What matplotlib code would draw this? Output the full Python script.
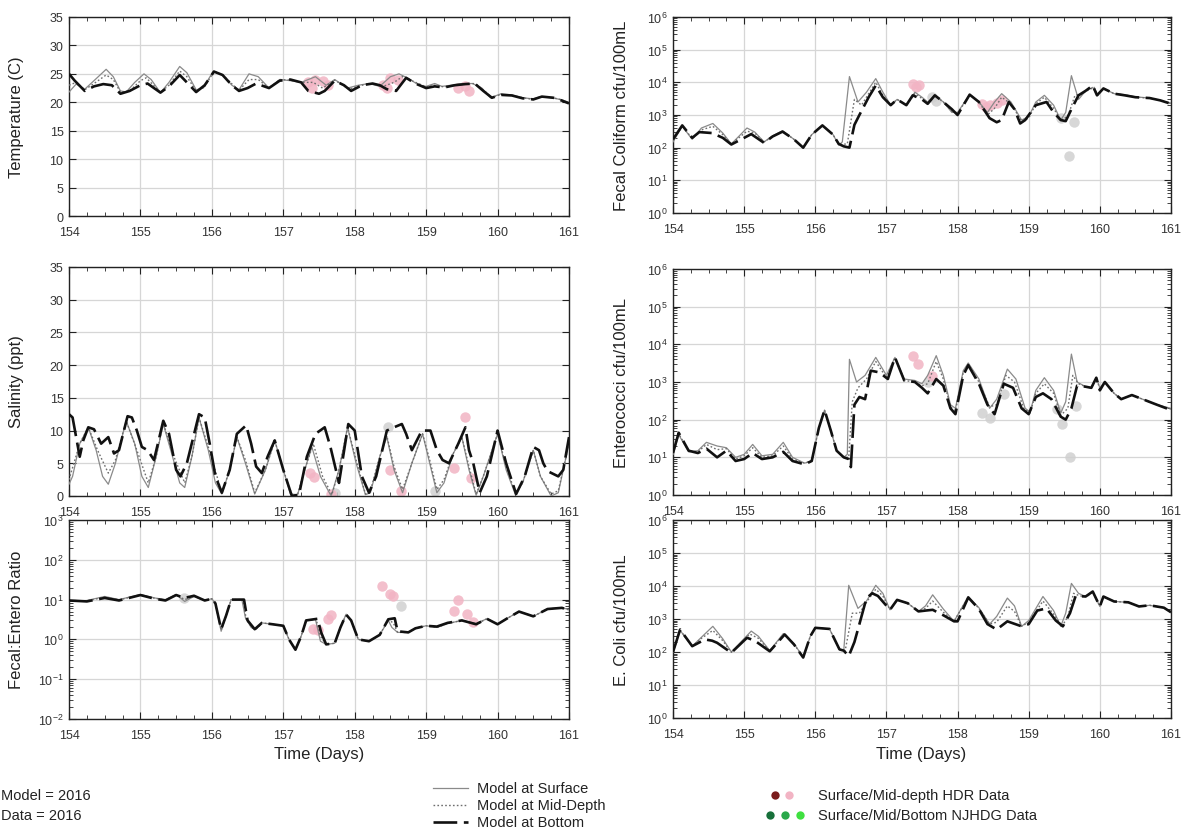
import numpy as np
import matplotlib
matplotlib.use("Agg")
import matplotlib.pyplot as plt
from matplotlib.ticker import MultipleLocator, FixedLocator, FixedFormatter, LogLocator, NullFormatter, NullLocator
from matplotlib.lines import Line2D

plt.rcParams['font.family'] = ['Liberation Sans', 'DejaVu Sans']
plt.rcParams['mathtext.default'] = 'regular'

# ---------------------------------------------------------------- data
# Each model series is a list of (day, value) knots.

temp_surface = [(154.00, 21.8), (154.10, 23.2), (154.22, 22.3), (154.35, 23.8), (154.52, 25.8), (154.62, 24.5),
                (154.72, 22.0), (154.80, 21.8), (154.92, 23.5), (155.05, 25.0), (155.15, 24.0), (155.28, 21.7),
                (155.40, 23.5), (155.55, 26.3), (155.65, 25.2), (155.78, 22.2), (155.88, 22.5), (156.02, 25.5),
                (156.15, 24.8), (156.28, 23.0), (156.38, 22.2), (156.52, 25.0), (156.65, 24.5), (156.80, 22.5),
                (156.95, 24.0), (157.10, 23.8), (157.25, 23.5), (157.45, 24.5), (157.60, 23.0), (157.72, 24.0),
                (157.90, 22.5), (158.05, 23.0), (158.20, 23.3), (158.35, 22.8), (158.50, 24.5), (158.62, 25.0),
                (158.75, 24.2), (158.90, 23.0), (159.00, 22.8), (159.12, 23.3), (159.22, 22.8), (159.35, 23.0),
                (159.50, 23.3), (159.65, 23.3), (159.78, 22.5), (159.90, 20.8), (160.05, 21.5), (160.20, 21.3),
                (160.35, 20.8), (160.50, 20.6), (160.60, 21.0), (160.75, 20.8), (160.88, 20.5), (161.00, 20.0)]
temp_mid = [(154.00, 23.0), (154.10, 23.5), (154.22, 22.2), (154.35, 23.3), (154.52, 24.8), (154.62, 24.0),
            (154.72, 21.8), (154.85, 22.0), (155.00, 23.8), (155.08, 24.3), (155.28, 21.8), (155.40, 23.0),
            (155.55, 25.5), (155.65, 24.5), (155.78, 22.0), (155.90, 22.8), (156.03, 25.4), (156.15, 24.8),
            (156.30, 23.0), (156.38, 22.1), (156.52, 24.0), (156.65, 24.0), (156.80, 22.5), (156.95, 24.0),
            (157.10, 23.9), (157.25, 23.5), (157.42, 23.5), (157.55, 22.5), (157.72, 23.9), (157.92, 22.3),
            (158.10, 23.0), (158.25, 23.3), (158.40, 22.8), (158.55, 23.5), (158.68, 24.6), (158.80, 23.8),
            (159.00, 22.7), (159.12, 23.0), (159.25, 22.7), (159.40, 23.0), (159.55, 23.2), (159.68, 23.3),
            (159.80, 22.2), (159.92, 20.8), (160.05, 21.4), (160.20, 21.2), (160.35, 20.8), (160.50, 20.5),
            (160.62, 21.0), (160.78, 20.8), (160.90, 20.4), (161.00, 19.9)]
temp_bottom = [(154.00, 25.0), (154.08, 23.8), (154.22, 22.0), (154.35, 22.8), (154.48, 23.2), (154.60, 23.0),
               (154.72, 21.5), (154.85, 22.0), (155.00, 23.0), (155.10, 23.3), (155.28, 21.7), (155.40, 22.8),
               (155.55, 24.8), (155.65, 23.5), (155.78, 21.8), (155.90, 23.0), (156.03, 25.4), (156.15, 24.8),
               (156.28, 23.0), (156.38, 22.0), (156.50, 22.5), (156.62, 23.3), (156.80, 22.5), (156.95, 23.8),
               (157.10, 24.0), (157.25, 23.5), (157.35, 22.0), (157.50, 21.5), (157.58, 22.0), (157.72, 23.8),
               (157.85, 23.0), (157.95, 22.0), (158.10, 23.0), (158.25, 23.3), (158.35, 23.0), (158.45, 22.3),
               (158.58, 22.0), (158.72, 24.3), (158.85, 23.3), (159.00, 22.5), (159.12, 22.8), (159.25, 22.6),
               (159.40, 23.0), (159.55, 23.2), (159.68, 23.3), (159.80, 22.0), (159.92, 20.8), (160.05, 21.3),
               (160.20, 21.2), (160.35, 20.7), (160.50, 20.5), (160.62, 21.0), (160.78, 20.8), (160.90, 20.3),
               (161.00, 19.8)]
temp_hdr = [(157.35, 23.5), (157.45, 24.0), (157.55, 23.8), (157.62, 23.0), (157.40, 22.5),
            (158.40, 23.0), (158.50, 24.3), (158.60, 24.0), (158.45, 22.5),
            (159.45, 22.5), (159.55, 22.8), (159.60, 22.0)]
temp_other = []

sal_surface = [(154.00, 1.8), (154.05, 3.0), (154.15, 8.0), (154.27, 10.5), (154.38, 7.0), (154.47, 3.0),
               (154.55, 1.8), (154.65, 5.0), (154.80, 11.5), (154.92, 8.0), (155.02, 3.0), (155.11, 1.3),
               (155.22, 6.0), (155.32, 11.0), (155.45, 6.0), (155.55, 2.0), (155.62, 1.3), (155.72, 6.0),
               (155.82, 12.0), (155.95, 7.0), (156.05, 2.0), (156.14, 0.3), (156.25, 4.0), (156.35, 9.0),
               (156.47, 5.0), (156.60, 0.3), (156.75, 4.0), (156.88, 8.5), (157.00, 4.0), (157.10, 0.3),
               (157.20, 0.2), (157.30, 4.0), (157.40, 7.5), (157.52, 3.0), (157.67, 0.0), (157.78, 4.0),
               (157.90, 10.5), (158.02, 5.0), (158.15, 0.2), (158.22, 0.5), (158.35, 6.0), (158.45, 9.0),
               (158.55, 4.0), (158.67, 0.5), (158.80, 5.0), (158.95, 9.5), (159.05, 5.0), (159.15, 0.5),
               (159.25, 2.0), (159.38, 6.5), (159.50, 9.0), (159.60, 4.0), (159.70, 0.1), (159.80, 3.0),
               (160.00, 9.5), (160.12, 4.0), (160.25, 0.2), (160.35, 2.0), (160.50, 7.0), (160.60, 3.0),
               (160.75, 0.0), (160.85, 0.5), (161.00, 8.0)]
sal_mid = [(154.00, 2.5), (154.15, 8.0), (154.27, 10.5), (154.40, 7.0), (154.55, 3.5), (154.65, 5.5),
           (154.80, 11.5), (154.95, 7.0), (155.11, 2.0), (155.22, 6.0), (155.32, 11.2), (155.45, 6.5),
           (155.62, 2.0), (155.72, 6.0), (155.82, 12.0), (155.95, 7.5), (156.14, 0.5), (156.25, 4.0),
           (156.35, 9.0), (156.47, 5.5), (156.60, 0.5), (156.75, 4.0), (156.88, 8.5), (157.00, 4.0),
           (157.12, 0.2), (157.20, 0.2), (157.30, 4.0), (157.42, 8.0), (157.55, 3.0), (157.68, 0.2),
           (157.78, 4.0), (157.90, 10.5), (158.02, 5.5), (158.15, 0.3), (158.22, 0.8), (158.35, 6.0),
           (158.45, 9.2), (158.55, 4.5), (158.67, 1.0), (158.80, 5.0), (158.95, 9.5), (159.05, 5.5),
           (159.15, 1.0), (159.25, 2.5), (159.38, 6.5), (159.50, 9.0), (159.60, 4.5), (159.70, 0.3),
           (159.80, 3.0), (160.00, 9.5), (160.12, 4.5), (160.25, 0.4), (160.35, 2.0), (160.50, 7.0),
           (160.60, 3.0), (160.75, 0.3), (160.85, 0.8), (161.00, 8.0)]
sal_bottom = [(154.00, 12.5), (154.05, 12.0), (154.10, 9.0), (154.15, 6.0), (154.20, 8.5), (154.27, 10.5),
              (154.35, 10.2), (154.45, 8.0), (154.55, 9.0), (154.63, 6.5), (154.70, 7.0), (154.82, 12.2),
              (154.88, 12.0), (154.95, 10.0), (155.02, 7.5), (155.10, 7.0), (155.19, 5.5), (155.32, 11.5),
              (155.40, 9.5), (155.50, 4.0), (155.56, 3.0), (155.65, 5.0), (155.82, 12.5), (155.90, 12.0),
              (155.97, 8.0), (156.05, 3.0), (156.14, 0.5), (156.25, 4.0), (156.35, 9.5), (156.48, 10.8),
              (156.55, 8.0), (156.62, 4.5), (156.70, 3.5), (156.78, 6.0), (156.88, 8.5), (157.00, 4.0),
              (157.12, 0.0), (157.22, 0.2), (157.33, 6.0), (157.45, 9.5), (157.58, 10.5), (157.66, 7.5),
              (157.78, 2.0), (157.91, 11.0), (158.00, 10.0), (158.10, 3.0), (158.20, 0.5), (158.30, 3.0),
              (158.45, 10.0), (158.55, 10.5), (158.66, 11.0), (158.72, 9.5), (158.80, 7.0), (158.94, 10.0),
              (159.06, 10.0), (159.15, 7.0), (159.23, 5.5), (159.32, 5.0), (159.45, 8.0), (159.55, 10.5),
              (159.60, 7.0), (159.66, 5.0), (159.75, 0.5), (159.85, 3.0), (160.00, 10.0), (160.12, 5.0),
              (160.26, 0.3), (160.38, 3.0), (160.50, 7.5), (160.58, 7.0), (160.64, 5.0), (160.70, 3.8),
              (160.85, 3.0), (160.92, 4.0), (161.00, 9.0)]
sal_hdr = [(157.38, 3.5), (157.43, 2.9), (157.67, 0.3), (158.50, 4.0), (158.65, 0.8),
           (159.39, 4.3), (159.55, 12.0), (159.63, 2.8)]
sal_other = [(158.46, 10.5), (157.72, 0.5), (159.12, 0.8)]

ratio_surface = [(154.00, 9.0), (154.25, 9.5), (154.50, 12.0), (154.70, 10.0), (155.00, 13.5), (155.20, 11.0),
                 (155.35, 10.0), (155.50, 13.5), (155.62, 9.0), (155.75, 12.0), (155.90, 9.5), (156.00, 10.5),
                 (156.05, 8.0), (156.13, 1.6), (156.20, 4.0), (156.27, 10.0), (156.42, 10.0), (156.47, 3.5),
                 (156.55, 2.0), (156.62, 1.8), (156.70, 2.6), (156.85, 2.4), (157.00, 2.2), (157.08, 1.0),
                 (157.17, 0.55), (157.25, 1.2), (157.32, 3.0), (157.45, 3.2), (157.52, 0.9), (157.60, 0.75),
                 (157.72, 0.8), (157.80, 2.0), (157.88, 4.3), (157.95, 3.0), (158.05, 1.0), (158.20, 0.9),
                 (158.35, 1.3), (158.47, 3.0), (158.52, 2.0), (158.60, 1.5), (158.75, 1.5), (158.85, 1.9),
                 (159.00, 2.2), (159.15, 2.0), (159.30, 2.5), (159.50, 3.0), (159.70, 2.5), (159.85, 3.3),
                 (160.00, 2.4), (160.15, 3.5), (160.30, 5.0), (160.50, 3.8), (160.70, 5.8), (160.90, 6.3),
                 (161.00, 5.6)]
ratio_mid = [(154.00, 9.2), (154.25, 9.3), (154.50, 11.5), (154.70, 9.8), (155.00, 13.2), (155.20, 10.8),
             (155.35, 9.8), (155.50, 13.2), (155.62, 10.0), (155.75, 12.2), (155.90, 9.5), (156.00, 10.5),
             (156.05, 8.0), (156.13, 1.7), (156.20, 4.0), (156.27, 10.0), (156.44, 10.0), (156.48, 3.2),
             (156.57, 1.9), (156.64, 1.9), (156.70, 2.6), (156.85, 2.4), (157.00, 2.2), (157.08, 1.0),
             (157.17, 0.55), (157.25, 1.2), (157.32, 3.0), (157.46, 3.2), (157.52, 1.2), (157.60, 0.75),
             (157.72, 0.8), (157.80, 2.0), (157.88, 4.2), (157.95, 3.0), (158.05, 1.0), (158.20, 0.9),
             (158.35, 1.3), (158.47, 3.1), (158.54, 2.6), (158.60, 1.5), (158.75, 1.5), (158.85, 1.9),
             (159.00, 2.2), (159.15, 2.0), (159.30, 2.5), (159.50, 3.0), (159.70, 2.4), (159.85, 3.3),
             (160.00, 2.4), (160.15, 3.5), (160.30, 5.0), (160.50, 3.8), (160.70, 5.8), (160.90, 6.2),
             (161.00, 5.5)]
ratio_bottom = [(154.00, 9.5), (154.25, 9.0), (154.50, 11.0), (154.70, 9.5), (155.00, 13.0), (155.20, 10.5),
                (155.35, 9.5), (155.50, 13.0), (155.62, 11.0), (155.75, 12.5), (155.90, 9.5), (156.00, 10.5),
                (156.05, 8.0), (156.13, 1.8), (156.20, 4.0), (156.27, 10.0), (156.45, 10.0), (156.50, 3.0),
                (156.60, 1.8), (156.70, 2.6), (156.85, 2.4), (157.00, 2.2), (157.08, 1.0), (157.17, 0.55),
                (157.25, 1.2), (157.32, 3.0), (157.48, 3.3), (157.53, 1.5), (157.60, 0.75), (157.72, 0.8),
                (157.80, 2.0), (157.88, 4.2), (157.95, 3.0), (158.05, 1.0), (158.20, 0.9), (158.35, 1.3),
                (158.47, 3.2), (158.56, 3.4), (158.60, 1.6), (158.75, 1.5), (158.85, 1.9), (159.00, 2.2),
                (159.15, 2.1), (159.30, 2.6), (159.50, 3.0), (159.70, 2.4), (159.85, 3.3), (160.00, 2.4),
                (160.15, 3.5), (160.30, 5.0), (160.50, 3.8), (160.70, 5.8), (160.90, 6.2), (161.00, 5.5)]
ratio_hdr = [(157.41, 1.8), (157.49, 1.7), (157.62, 3.3), (157.67, 4.0), (158.38, 22.0), (158.49, 13.5),
             (158.54, 12.0), (159.39, 5.2), (159.44, 10.0), (159.57, 4.4), (159.65, 2.7)]
ratio_other = [(158.65, 7.0), (155.61, 11.0)]

fecal_surface = [(154.00, 150), (154.13, 450), (154.27, 180), (154.40, 400), (154.56, 550), (154.70, 280),
                 (154.82, 130), (155.04, 400), (155.15, 300), (155.28, 150), (155.40, 230), (155.54, 330),
                 (155.70, 180), (155.83, 100), (155.95, 250), (156.10, 480), (156.25, 250), (156.33, 120),
                 (156.38, 150), (156.48, 15000), (156.60, 2500), (156.72, 5000), (156.85, 13000), (156.95, 5000),
                 (157.06, 2000), (157.15, 3000), (157.28, 2000), (157.40, 5000), (157.50, 3500), (157.58, 2500),
                 (157.68, 4000), (157.80, 2500), (157.92, 1200), (158.00, 1200), (158.17, 4200), (158.30, 2500),
                 (158.42, 1200), (158.52, 2500), (158.62, 4500), (158.75, 2500), (158.90, 700), (159.00, 900),
                 (159.10, 2500), (159.22, 4000), (159.35, 2000), (159.45, 700), (159.52, 1200), (159.60, 16000),
                 (159.70, 3000), (159.80, 5500), (159.90, 7000), (159.96, 4000), (160.05, 6500), (160.20, 4500),
                 (160.35, 4200), (160.50, 3600), (160.70, 3300), (160.85, 2800), (161.00, 2300)]
fecal_mid = [(154.00, 160), (154.13, 460), (154.27, 190), (154.40, 350), (154.56, 450), (154.70, 250),
             (154.82, 130), (155.04, 320), (155.15, 280), (155.28, 150), (155.40, 220), (155.54, 320),
             (155.70, 180), (155.83, 100), (155.95, 250), (156.10, 480), (156.25, 250), (156.33, 125),
             (156.45, 130), (156.55, 3000), (156.65, 2000), (156.75, 4500), (156.85, 10000), (156.95, 4000),
             (157.06, 2000), (157.15, 3000), (157.28, 2000), (157.40, 4500), (157.50, 3200), (157.58, 2300),
             (157.68, 4000), (157.80, 2500), (157.92, 1300), (158.00, 1100), (158.17, 4200), (158.30, 2500),
             (158.42, 1000), (158.52, 1600), (158.62, 3500), (158.75, 2200), (158.90, 650), (159.00, 800),
             (159.10, 2200), (159.22, 3500), (159.35, 1600), (159.45, 700), (159.55, 900), (159.65, 4000),
             (159.75, 4500), (159.85, 6000), (159.92, 7000), (159.97, 4000), (160.05, 6500), (160.20, 4500),
             (160.35, 4100), (160.50, 3500), (160.70, 3300), (160.85, 2800), (161.00, 2250)]
fecal_bottom = [(154.00, 180), (154.13, 480), (154.27, 200), (154.37, 300), (154.55, 280), (154.70, 200),
                (154.82, 125), (155.00, 200), (155.10, 260), (155.28, 140), (155.40, 220), (155.54, 310),
                (155.70, 180), (155.83, 100), (155.95, 250), (156.10, 480), (156.25, 250), (156.33, 130),
                (156.40, 110), (156.48, 100), (156.55, 500), (156.62, 1000), (156.75, 3500), (156.85, 8000),
                (156.95, 3500), (157.06, 2000), (157.15, 3000), (157.28, 2000), (157.37, 4000), (157.50, 3000),
                (157.58, 2200), (157.68, 4000), (157.80, 2500), (157.92, 1500), (158.00, 1000), (158.17, 4200),
                (158.30, 2500), (158.45, 800), (158.55, 600), (158.62, 700), (158.72, 2500), (158.80, 1500),
                (158.88, 550), (158.95, 700), (159.10, 2000), (159.25, 2500), (159.35, 1200), (159.45, 700),
                (159.52, 650), (159.60, 1500), (159.70, 4000), (159.80, 5500), (159.90, 8000), (159.96, 4000),
                (160.05, 6500), (160.20, 4500), (160.35, 4000), (160.50, 3500), (160.70, 3300), (160.85, 2800),
                (161.00, 2200)]
fecal_hdr = [(157.38, 9000), (157.46, 8000), (157.42, 7000), (158.35, 2200), (158.45, 2000),
             (158.55, 2300), (158.62, 2800), (158.40, 1800)]
fecal_other = [(157.64, 3500), (157.70, 2600), (159.45, 800), (159.64, 630), (159.57, 56)]

entero_surface = [(154.00, 12), (154.08, 40), (154.22, 14), (154.35, 15), (154.47, 25), (154.62, 20),
                  (154.75, 18), (154.88, 10), (155.00, 12), (155.12, 22), (155.25, 11), (155.40, 12),
                  (155.55, 25), (155.68, 10), (155.85, 7), (155.95, 8), (156.05, 60), (156.13, 180),
                  (156.22, 50), (156.30, 15), (156.40, 10), (156.45, 12), (156.48, 4000), (156.58, 1000),
                  (156.70, 1500), (156.85, 4500), (157.00, 1500), (157.12, 4500), (157.25, 1200), (157.40, 1100),
                  (157.50, 900), (157.58, 1500), (157.70, 5000), (157.80, 1500), (157.90, 250), (157.97, 200),
                  (158.08, 2000), (158.15, 3200), (158.30, 1200), (158.45, 200), (158.55, 350), (158.70, 2200),
                  (158.82, 1200), (158.95, 200), (159.02, 160), (159.10, 600), (159.22, 1300), (159.35, 600),
                  (159.45, 150), (159.52, 300), (159.60, 5500), (159.68, 1000), (159.80, 750), (159.88, 700),
                  (159.95, 1300), (160.00, 700), (160.07, 1000), (160.20, 500), (160.30, 350), (160.45, 450),
                  (160.60, 350), (160.80, 250), (161.00, 200)]
entero_mid = [(154.00, 12), (154.08, 42), (154.22, 15), (154.35, 14), (154.47, 22), (154.62, 16),
              (154.75, 17), (154.88, 9), (155.00, 11), (155.12, 18), (155.25, 10), (155.40, 11),
              (155.55, 20), (155.68, 9), (155.85, 7), (155.95, 8), (156.05, 60), (156.13, 180),
              (156.22, 50), (156.30, 15), (156.40, 10), (156.47, 10), (156.52, 300), (156.60, 700),
              (156.72, 1200), (156.85, 3500), (157.00, 1300), (157.12, 4500), (157.25, 1100), (157.40, 1000),
              (157.50, 800), (157.58, 900), (157.70, 3500), (157.80, 1200), (157.90, 220), (157.97, 170),
              (158.08, 1800), (158.15, 3000), (158.30, 1000), (158.45, 220), (158.55, 250), (158.68, 1500),
              (158.80, 1000), (158.93, 200), (159.02, 150), (159.10, 500), (159.22, 900), (159.35, 500),
              (159.45, 130), (159.55, 200), (159.62, 1500), (159.70, 900), (159.80, 750), (159.88, 700),
              (159.95, 1300), (160.00, 650), (160.07, 1000), (160.20, 500), (160.30, 350), (160.45, 450),
              (160.60, 350), (160.80, 250), (161.00, 190)]
entero_bottom = [(154.00, 13), (154.08, 45), (154.22, 15), (154.35, 13), (154.47, 17), (154.62, 10),
                 (154.75, 15), (154.88, 8), (155.00, 9), (155.12, 13), (155.25, 9), (155.40, 10),
                 (155.55, 14), (155.68, 8), (155.85, 6.5), (155.95, 8), (156.05, 60), (156.13, 180),
                 (156.22, 50), (156.30, 15), (156.40, 10), (156.47, 9), (156.50, 5.5), (156.55, 250),
                 (156.62, 400), (156.70, 350), (156.78, 2000), (156.90, 1800), (157.02, 1200), (157.12, 4500),
                 (157.25, 1100), (157.40, 1000), (157.50, 700), (157.58, 500), (157.70, 1200), (157.80, 800),
                 (157.90, 200), (157.97, 140), (158.08, 1500), (158.15, 2800), (158.30, 900), (158.42, 250),
                 (158.52, 140), (158.65, 900), (158.78, 700), (158.90, 200), (159.00, 140), (159.10, 400),
                 (159.20, 500), (159.32, 350), (159.45, 120), (159.52, 100), (159.60, 200), (159.68, 800),
                 (159.80, 750), (159.88, 700), (159.95, 1300), (160.00, 600), (160.07, 1000), (160.20, 500),
                 (160.30, 350), (160.45, 450), (160.60, 350), (160.80, 250), (161.00, 180)]
entero_hdr = [(157.38, 5000), (157.45, 3000), (157.64, 1450)]
entero_other = [(157.59, 1000), (158.35, 150), (158.45, 110), (158.65, 470), (159.40, 190),
                (159.47, 75), (159.58, 10), (159.66, 230)]

ecoli_surface = [(154.00, 100), (154.10, 450), (154.27, 150), (154.40, 280), (154.56, 600), (154.70, 250),
                 (154.82, 100), (155.10, 430), (155.20, 300), (155.36, 110), (155.55, 360), (155.70, 180),
                 (155.83, 70), (155.93, 300), (156.00, 540), (156.20, 500), (156.34, 120), (156.40, 110),
                 (156.47, 10500), (156.60, 2100), (156.72, 3500), (156.85, 10500), (156.95, 6000), (157.05, 1900),
                 (157.15, 3800), (157.30, 3000), (157.45, 1700), (157.55, 2500), (157.65, 5400), (157.80, 2000),
                 (157.95, 850), (158.15, 4800), (158.30, 2200), (158.45, 700), (158.55, 1200), (158.70, 4300),
                 (158.80, 2500), (158.90, 600), (159.00, 900), (159.20, 4800), (159.35, 1800), (159.45, 600),
                 (159.52, 1500), (159.60, 12000), (159.70, 6000), (159.80, 4800), (159.90, 6800), (160.00, 2400),
                 (160.05, 4800), (160.20, 3400), (160.40, 3200), (160.55, 2400), (160.70, 2600), (160.90, 2200),
                 (161.00, 1600)]
ecoli_mid = [(154.00, 100), (154.10, 460), (154.27, 150), (154.40, 260), (154.56, 450), (154.70, 220),
             (154.82, 98), (155.08, 350), (155.20, 260), (155.36, 108), (155.56, 350), (155.70, 175),
             (155.83, 69), (155.93, 300), (156.00, 540), (156.20, 500), (156.34, 120), (156.42, 110),
             (156.52, 1500), (156.62, 1500), (156.75, 4000), (156.85, 8000), (156.95, 5000), (157.05, 1900),
             (157.15, 3800), (157.30, 3000), (157.45, 1700), (157.55, 2100), (157.65, 3500), (157.80, 1600),
             (157.95, 850), (158.15, 4600), (158.30, 2100), (158.45, 700), (158.55, 800), (158.70, 2500),
             (158.80, 1700), (158.90, 600), (159.00, 800), (159.20, 3500), (159.35, 1400), (159.47, 600),
             (159.55, 1200), (159.63, 6000), (159.72, 5000), (159.82, 4800), (159.90, 6800), (160.00, 2400),
             (160.05, 4800), (160.20, 3400), (160.40, 3200), (160.55, 2400), (160.70, 2600), (160.90, 2200),
             (161.00, 1600)]
ecoli_bottom = [(154.00, 100), (154.10, 480), (154.27, 150), (154.45, 240), (154.55, 220), (154.62, 190),
                (154.82, 95), (155.04, 270), (155.15, 220), (155.36, 105), (155.57, 340), (155.70, 170),
                (155.83, 68), (155.93, 300), (156.00, 540), (156.20, 500), (156.34, 120), (156.40, 110),
                (156.47, 75), (156.55, 200), (156.62, 700), (156.72, 4300), (156.80, 6000), (156.88, 5000),
                (157.05, 1900), (157.15, 3800), (157.30, 3000), (157.45, 1700), (157.55, 1800), (157.65, 1900),
                (157.80, 1300), (157.95, 850), (158.00, 850), (158.15, 4500), (158.30, 2000), (158.42, 700),
                (158.55, 480), (158.70, 850), (158.90, 600), (159.00, 700), (159.12, 1800), (159.25, 2100),
                (159.38, 900), (159.48, 600), (159.58, 1500), (159.66, 5000), (159.80, 4800), (159.90, 6800),
                (160.00, 2400), (160.05, 4800), (160.20, 3400), (160.40, 3200), (160.55, 2400), (160.70, 2600),
                (160.90, 2200), (161.00, 1600)]
ecoli_hdr = []
ecoli_other = []

LINEAR_TICKS = [0, 5, 10, 15, 20, 25, 30, 35]
X_TICKS = [154, 155, 156, 157, 158, 159, 160, 161]

# ---------------------------------------------------------------- figure
W, H = 1183, 837
fig = plt.figure(figsize=(W / 100, H / 100), dpi=100)


def rect(left, top, right, bottom):
    return [left / W, 1 - bottom / H, (right - left) / W, (bottom - top) / H]


SURF_KW = dict(color='#8a8a8a', lw=0.9, ls='-', zorder=3)
MID_KW = dict(color='#6e6e6e', lw=1.0, ls=(0, (1.2, 1.6)), zorder=4)
BOT_KW = dict(color='#111111', lw=1.9, ls=(0, (9, 2.5)), zorder=5)
HDR_COLOR = '#f2b4c4'
OTHER_COLOR = '#d0d0d0'


def series(pairs):
    t = [p[0] for p in pairs]
    v = [p[1] for p in pairs]
    return t, v


def panel(box, surf, mid, bot, hdr, other, log_range=None):
    ax = fig.add_axes(rect(*box))
    for pts, col in ((other, OTHER_COLOR), (hdr, HDR_COLOR)):
        if pts:
            t, v = series(pts)
            ax.plot(t, v, 'o', color=col, ms=7.5, mec='none', alpha=0.85, zorder=2)
    ax.plot(*series(surf), **SURF_KW)
    ax.plot(*series(mid), **MID_KW)
    ax.plot(*series(bot), **BOT_KW)

    ax.set_xlim(154, 161)
    ax.xaxis.set_major_locator(FixedLocator(X_TICKS))
    ax.xaxis.set_major_formatter(FixedFormatter([str(x) for x in X_TICKS]))
    ax.xaxis.set_minor_locator(MultipleLocator(0.25))
    if log_range is None:
        ax.set_ylim(0, 35)
        ax.yaxis.set_major_locator(FixedLocator(LINEAR_TICKS))
        ax.yaxis.set_major_formatter(FixedFormatter([str(v) for v in LINEAR_TICKS]))
        ax.yaxis.set_minor_locator(NullLocator())
    else:
        lo, hi = log_range
        ax.set_yscale('log')
        ax.set_ylim(10.0 ** lo, 10.0 ** hi)
        exps = list(range(lo, hi + 1))
        ax.yaxis.set_major_locator(FixedLocator([10.0 ** e for e in exps]))
        ax.yaxis.set_major_formatter(FixedFormatter([r'$\mathregular{10^{%d}}$' % e for e in exps]))
        ax.yaxis.set_minor_locator(LogLocator(base=10, subs=np.arange(2, 10), numticks=20))
        ax.yaxis.set_minor_formatter(NullFormatter())
    ax.tick_params(which='both', direction='in', top=True, right=True,
                   labelsize=9, labelcolor='#333333', color='#222222')
    ax.tick_params(axis='x', which='major', pad=7)
    ax.tick_params(axis='y', which='major', pad=4)
    ax.tick_params(which='major', length=5, width=0.8)
    ax.tick_params(which='minor', length=3, width=0.6)
    ax.grid(True, which='major', color='#d6d6d6', lw=0.9, zorder=0)
    ax.set_axisbelow(True)
    for s in ax.spines.values():
        s.set_linewidth(1.0)
        s.set_color('#222222')
    return ax


panel((69, 18, 569, 217), temp_surface, temp_mid, temp_bottom, temp_hdr, temp_other)
panel((673, 18, 1171, 214), fecal_surface, fecal_mid, fecal_bottom, fecal_hdr, fecal_other, (0, 6))
panel((69, 268, 569, 497), sal_surface, sal_mid, sal_bottom, sal_hdr, sal_other)
panel((673, 270, 1171, 496), entero_surface, entero_mid, entero_bottom, entero_hdr, entero_other, (0, 6))
panel((69, 521, 569, 720), ratio_surface, ratio_mid, ratio_bottom, ratio_hdr, ratio_other, (-2, 3))
panel((673, 521, 1171, 719), ecoli_surface, ecoli_mid, ecoli_bottom, ecoli_hdr, ecoli_other, (0, 6))


def ftext(x, y, s, **kw):
    fig.text(x / W, 1 - y / H, s, **kw)


# axis titles
YL = dict(rotation=90, ha='center', va='center', fontsize=12, color='#222222')
ftext(17, 117, 'Temperature (C)', **YL)
ftext(17, 382, 'Salinity (ppt)', **YL)
ftext(17, 620, 'Fecal:Entero Ratio', **YL)
ftext(621, 116, 'Fecal Coliform cfu/100mL', **YL)
ftext(621, 383, 'Enterococci cfu/100mL', **YL)
ftext(621, 620, 'E. Coli cfu/100mL', **YL)
ftext(319, 755, 'Time (Days)', ha='center', va='center', fontsize=12, color='#222222')
ftext(921, 755, 'Time (Days)', ha='center', va='center', fontsize=12, color='#222222')

# run information
ftext(1, 796, 'Model = 2016', ha='left', va='center', fontsize=10.5, color='#222222')
ftext(1, 816, 'Data = 2016', ha='left', va='center', fontsize=10.5, color='#222222')

# line key
key_ax = fig.add_axes([0, 0, 1, 1], facecolor='none')
key_ax.set_xlim(0, W)
key_ax.set_ylim(H, 0)
key_ax.axis('off')
key_ax.add_line(Line2D([433, 468], [789, 789], **SURF_KW))
key_ax.add_line(Line2D([433, 468], [806, 806], **MID_KW))
key_ax.add_line(Line2D([433, 468], [823, 823], **BOT_KW))
ftext(477, 789, 'Model at Surface', ha='left', va='center', fontsize=10.5, color='#222222')
ftext(477, 806, 'Model at Mid-Depth', ha='left', va='center', fontsize=10.5, color='#222222')
ftext(477, 823, 'Model at Bottom', ha='left', va='center', fontsize=10.5, color='#222222')

# data key
key_ax.plot([775], [796], 'o', color='#7a1c1c', ms=6, mec='none')
key_ax.plot([789], [796], 'o', color=HDR_COLOR, ms=6, mec='none')
key_ax.plot([770], [816], 'o', color='#17703a', ms=6, mec='none')
key_ax.plot([785], [816], 'o', color='#2aa84a', ms=6, mec='none')
key_ax.plot([800], [816], 'o', color='#3fe040', ms=6, mec='none')
ftext(818, 796, 'Surface/Mid-depth HDR Data', ha='left', va='center', fontsize=10.5, color='#222222')
ftext(818, 816, 'Surface/Mid/Bottom NJHDG Data', ha='left', va='center', fontsize=10.5, color='#222222')

fig.savefig('out.png', dpi=100)
